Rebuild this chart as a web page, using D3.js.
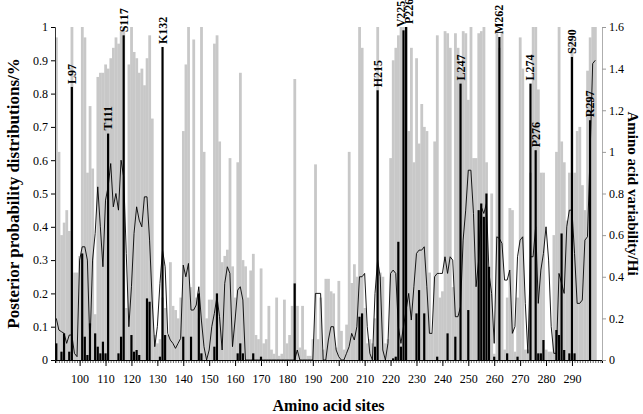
<!DOCTYPE html>
<html>
<head>
<meta charset="utf-8">
<script src="https://cdn.jsdelivr.net/npm/d3@7"></script>
<style>
  body { margin: 0; background: #fff; }
  svg { display: block; font-family: "Liberation Serif", "DejaVu Serif", serif; }
</style>
</head>
<body>
<svg id="chart"></svg>
<script>
// amino acid sites 91..299
var firstSite = 91;

// amino acid variability (Hi), right axis, one value per site from 91
var hi = [
  1.55, 1.0, 0.6, 0.66, 0.72, 0.62, 1.6, 0.42, 0.42, 0.5,
  1.6, 1.55, 0.9, 1.22, 0.92, 0.22, 1.36, 1.38, 1.38, 1.42,
  1.4, 1.45, 1.5, 1.55, 1.52, 1.58, 1.6, 0.25, 1.42, 1.6,
  1.48, 1.45, 1.38, 1.4, 1.32, 1.45, 1.56, 1.16, 0.12, 0.08,
  0.1, 0.3, 0.25, 0.12, 0.47, 0.26, 0.24, 0.2, 0.3, 1.1,
  1.42, 1.6, 0.35, 1.54, 0.3, 0.2, 1.6, 1.0, 0.2, 0.29,
  0.29, 1.52, 1.56, 1.05, 0.47, 0.5, 0.53, 0.97, 0.45, 0.3,
  0.95, 1.38, 0.48, 0.45, 0.3, 0.43, 0.51, 0.12, 0.1, 0.44,
  0.08, 0.1, 0.26, 0.05, 0.03, 0.3, 0.02, 0.03, 0.29, 0.08,
  0.12, 0.26, 1.35, 0.26, 0.06, 0.26, 0.05, 0.02, 0.02, 0.1,
  0.94, 0.1, 0.3, 0.05, 0.39, 0.39, 0.33, 0.32, 0.06, 0.38,
  0.14, 0.05, 0.17, 1.0, 0.37, 0.46, 0.4, 1.6, 1.5, 0.25,
  0.08, 0.1, 0.08, 0.2, 1.6, 0.42, 0.4, 0.08, 0.1, 0.97,
  1.44, 1.5, 1.56, 1.6, 1.6, 1.6, 1.1, 1.5, 0.95, 1.45,
  1.04, 1.23, 1.12, 1.1, 0.42, 0.13, 1.05, 1.56, 0.3, 0.33,
  1.58, 1.57, 1.5, 0.35, 1.57, 1.5, 1.4, 1.58, 1.57, 1.25,
  1.6, 0.97, 0.97, 1.57, 1.58, 1.6, 0.95, 0.1, 0.8, 0.03,
  1.57, 1.5, 1.58, 0.05, 0.3, 0.73, 0.72, 0.04, 0.3, 1.55,
  1.4, 0.05, 0.05, 0.9, 1.6, 1.6, 1.3, 0.9, 0.9, 0.05,
  0.04, 0.04, 0.6, 1.0, 1.6, 1.05, 0.95, 0.67, 0.9, 1.55,
  0.9, 1.1, 1.12, 0.84, 0.72, 1.39, 1.55, 1.6, 1.6
];

// thin black line, left axis, one value per site from 91
var trend = [
  0.125, 0.09, 0.085, 0.08, 0.05, 0.075, 0.075, 0.02, 0.01, 0.3,
  0.34, 0.34, 0.3, 0.04, 0.3, 0.38, 0.52, 0.4, 0.28, 0.48,
  0.52, 0.59, 0.46, 0.5, 0.45, 0.6, 0.55, 0.32, 0.1, 0.22,
  0.38, 0.46, 0.42, 0.4, 0.49, 0.49, 0.36, 0.18, 0.04, 0.1,
  0.23, 0.33, 0.28, 0.08, 0.06, 0.05, 0.035, 0.05, 0.065, 0.285,
  0.25, 0.29, 0.15, 0.15, 0.165, 0.22, 0.12, 0.04, 0, 0.03,
  0.1, 0.14, 0.19, 0.13, 0.03, 0.23, 0.28, 0.26, 0.04, 0.12,
  0.21, 0.22, 0.18, 0, 0, 0, 0, 0, 0, 0,
  0, 0, 0, 0, 0, 0, 0, 0, 0, 0,
  0, 0, 0, 0.03, 0, 0, 0, 0, 0, 0,
  0.2, 0.2, 0.2, 0, 0, 0.06, 0.1, 0.1, 0.03, 0.01,
  0, 0, 0.02, 0.04, 0.08, 0.06, 0.1, 0.25, 0.25, 0.26,
  0.1, 0.02, 0, 0.2, 0.3, 0.25, 0.03, 0, 0.05, 0.26,
  0.27, 0.26, 0.1, 0.05, 0.1, 0.15, 0.2, 0.12, 0.22, 0.32,
  0.33, 0.33, 0.34, 0.22, 0.08, 0.08, 0.25, 0.26, 0.26, 0.26,
  0.31, 0.26, 0.31, 0.3, 0.13, 0.13, 0.16, 0.36, 0.45, 0.57,
  0.57, 0.44, 0.22, 0.3, 0.46, 0.44, 0.47, 0.26, 0.2, 0.05,
  0.37, 0.365, 0.35, 0.24, 0.24, 0.27, 0.08, 0.1, 0.31, 0.36,
  0.37, 0.17, 0.02, 0.31, 0.31, 0.4, 0.17, 0.27, 0.32, 0.4,
  0.3, 0.1, 0.02, 0.02, 0.26, 0.23, 0.2, 0.4, 0.45, 0.45,
  0.32, 0.17, 0.17, 0.18, 0.36, 0.37, 0.62, 0.89, 0.9
];

// posterior probabilities (black bars), only non-zero sites
var postSites = [91, 93, 94, 96, 97, 101, 102, 103, 104, 106, 107, 108, 109, 110, 111,
  115, 116, 117, 120, 121, 122, 123, 126, 127, 131, 132, 133, 140, 143, 146, 147,
  152, 153, 161, 162, 163, 167, 170, 183, 208, 209, 214, 215, 221, 222, 223, 224,
  225, 226, 230, 231, 233, 238, 242, 245, 247, 250, 254, 255, 256, 257, 258, 260,
  262, 265, 269, 274, 276, 277, 278, 279, 284, 285, 286, 287, 289, 290, 291, 297];
var postVals = [0.05, 0.025, 0.08, 0.025, 0.82, 0.32, 0.07, 0.015, 0.11, 0.08, 0.04, 0.02, 0.055, 0.02, 0.68,
  0.02, 0.07, 0.975, 0.075, 0.025, 0.03, 0.015, 0.185, 0.175, 0.01, 0.94, 0.075, 0.07, 0.07, 0.2, 0.02,
  0.04, 0.2, 0.02, 0.05, 0.02, 0.02, 0.01, 0.23, 0.13, 0.14, 0.04, 0.81, 0.005, 0.01, 0.355, 0.04,
  0.99, 1.0, 0.14, 0.21, 0.14, 0.01, 0.08, 0.07, 0.83, 0.15, 0.45, 0.47, 0.43, 0.5, 0.28, 0.01,
  0.97, 0.02, 0.01, 0.83, 0.63, 0.02, 0.02, 0.06, 0.09, 0.075, 0.38, 0.03, 0.02, 0.91, 0.02, 0.72];

// labelled sites
var peakSites = [97, 111, 117, 132, 215, 225, 226, 247, 262, 274, 276, 290, 297];
var peakNames = ["L97", "T111", "S117", "K132", "H215", "V225", "P226", "L247", "M262", "L274", "P276", "S290", "R297"];

var rightTicks = [0, 0.2, 0.4, 0.6, 0.8, 1, 1.2, 1.4, 1.6];
var leftTicks = [0, 0.1, 0.2, 0.3, 0.4, 0.5, 0.6, 0.7, 0.8, 0.9, 1];
var siteTicks = d3.range(100, 300, 10);

var W = 643, H = 414;
var margin = {left: 55, right: 41, top: 27, bottom: 54};

var svg = d3.select("#chart").attr("width", W).attr("height", H);

var x = d3.scaleLinear().domain([90.5, 301.6]).range([margin.left, W - margin.right]);
var yL = d3.scaleLinear().domain([0, 1]).range([H - margin.bottom, margin.top]);
var yR = d3.scaleLinear().domain([0, 1.6]).range([H - margin.bottom, margin.top]);
var band = x(1) - x(0);

var hiData = hi.map(function(v, i) { return {site: firstSite + i, v: v}; });
var trendData = trend.map(function(v, i) { return {site: firstSite + i, v: v}; });
var postData = postSites.map(function(s, i) { return {site: s, v: postVals[i]}; });

// grey bars
svg.append("g").selectAll("rect")
  .data(hiData)
  .enter().append("rect")
    .attr("x", function(d) { return x(d.site) - band / 2; })
    .attr("y", function(d) { return yR(d.v); })
    .attr("width", band + 0.2)
    .attr("height", function(d) { return yR(0) - yR(d.v); })
    .attr("fill", "#c8c8c8");

// line
var line = d3.line()
  .x(function(d) { return x(d.site); })
  .y(function(d) { return yL(d.v); });

svg.append("path")
  .datum(trendData)
  .attr("d", line)
  .attr("fill", "none")
  .attr("stroke", "#000")
  .attr("stroke-width", 0.9);

// black bars
var bw = band * 0.85;
svg.append("g").selectAll("rect")
  .data(postData)
  .enter().append("rect")
    .attr("x", function(d) { return x(d.site) - bw / 2; })
    .attr("y", function(d) { return yL(d.v); })
    .attr("width", bw)
    .attr("height", function(d) { return yL(0) - yL(d.v); })
    .attr("fill", "#000");

// labels on the peaks
var nudge = {V225: -2.5, P226: 2.5};
svg.append("g").selectAll("text")
  .data(peakSites)
  .enter().append("text")
    .attr("transform", function(s, i) {
      var v = postVals[postSites.indexOf(s)];
      var dx = nudge[peakNames[i]] || 0;
      return "translate(" + (x(s) + dx + 4) + "," + (yL(v) - 3) + ") rotate(-90)";
    })
    .attr("font-size", "12px")
    .attr("font-weight", "bold")
    .text(function(s, i) { return peakNames[i]; });

// axes
var xAxisMinor = d3.axisBottom(x).tickValues(d3.range(91, 302)).tickSize(3).tickFormat("");
svg.append("g")
  .attr("transform", "translate(0," + yL(0) + ")")
  .call(xAxisMinor)
  .call(function(g) { g.selectAll("line").attr("stroke-width", 0.6); });

var xAxis = d3.axisBottom(x).tickValues(siteTicks).tickSize(6).tickPadding(8);
svg.append("g")
  .attr("transform", "translate(0," + yL(0) + ")")
  .call(xAxis)
  .call(function(g) {
    g.select(".domain").remove();
    g.selectAll("text").attr("font-size", "12px").attr("font-family", "Liberation Serif");
  });

var leftAxis = d3.axisLeft(yL).tickValues(leftTicks).tickSize(4).tickFormat(d3.format("~g"));
svg.append("g")
  .attr("transform", "translate(" + margin.left + ",0)")
  .call(leftAxis)
  .call(function(g) {
    g.select(".domain").attr("stroke-width", 0.8);
    g.selectAll("text").attr("font-size", "12px").attr("font-family", "Liberation Serif");
  });

var rightAxis = d3.axisRight(yR).tickValues(rightTicks).tickSize(4).tickFormat(d3.format("~g"));
svg.append("g")
  .attr("transform", "translate(" + (W - margin.right) + ",0)")
  .call(rightAxis)
  .call(function(g) {
    g.select(".domain").attr("stroke", "#999").attr("stroke-width", 0.8);
    g.selectAll("line").attr("stroke", "#999");
    g.selectAll("text").attr("font-size", "12px").attr("font-family", "Liberation Serif");
  });

// titles
svg.append("text")
  .attr("transform", "translate(19," + (yL(0.5)) + ") rotate(-90)")
  .attr("text-anchor", "middle")
  .attr("font-size", "17px")
  .attr("font-weight", "bold")
  .text("Posterior probability distributions/%");

svg.append("text")
  .attr("transform", "translate(628," + (yL(0.5)) + ") rotate(90)")
  .attr("text-anchor", "middle")
  .attr("font-size", "15px")
  .attr("font-weight", "bold")
  .text("Amino acid variability/Hi");

svg.append("text")
  .attr("x", (margin.left + W - margin.right) / 2)
  .attr("y", 411)
  .attr("text-anchor", "middle")
  .attr("font-size", "16px")
  .attr("font-weight", "bold")
  .text("Amino acid sites");
</script>
</body>
</html>
